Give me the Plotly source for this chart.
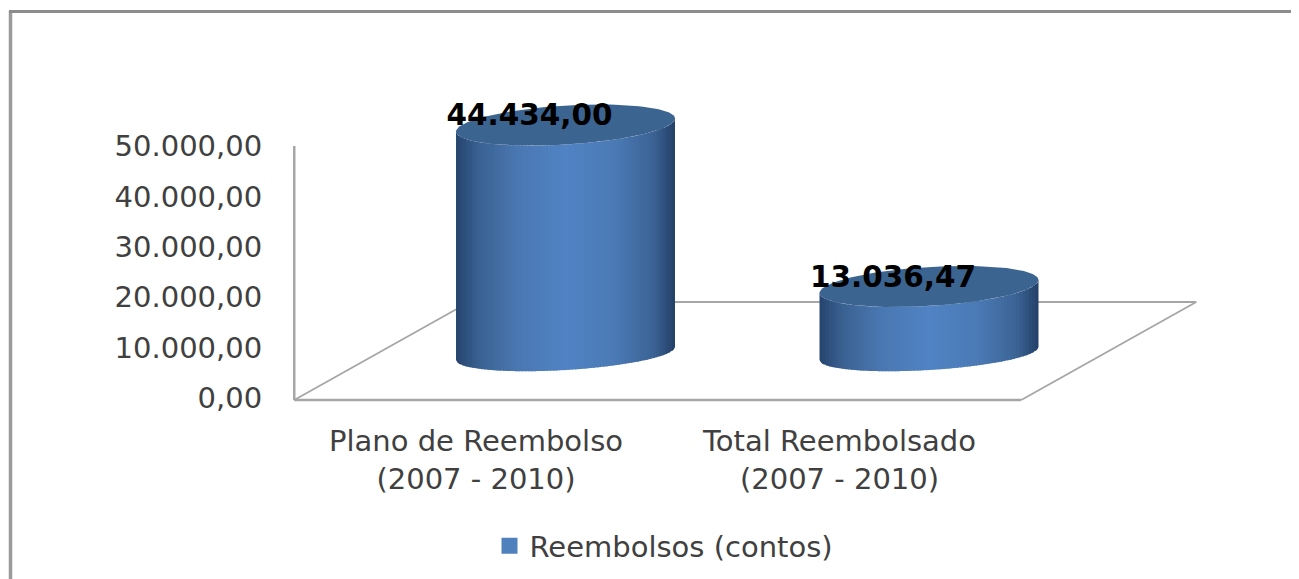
import numpy as np
import plotly.graph_objects as go

# --- data ---
categories = ["Plano de Reembolso<br>(2007 - 2010)", "Total Reembolsado<br>(2007 - 2010)"]
values = [44434.00, 13036.47]
value_labels = ["44.434,00", "13.036,47"]
axis_ticks = [0, 10000, 20000, 30000, 40000, 50000]
axis_labels = ["0,00", "10.000,00", "20.000,00", "30.000,00", "40.000,00", "50.000,00"]
series_name = "Reembolsos (contos)"

OFF = 8               # the page body margin
W, H = 1299 - OFF, 579 - OFF
PX = 0.00504          # px per value unit on the value axis
Y0 = 398 - OFF        # pixel of zero
AXIS_BOTTOM = 402 - OFF
UNIT = 363.5          # px per category
X0 = 476 - OFF        # pixel of first category tick
AXIS_LEFT = 288 - OFF


def vy(p):
    return (Y0 - (p - OFF)) / PX


LINE = "#a6a6a6"
FLOOR_FRONT = vy(400)
FLOOR_BACK = vy(302)
DEPTH = 175 / UNIT
MID = 89.5 / UNIT
HALF_W = 109.5 / UNIT
BASE = vy(353.5)
PERSP = 1.02
B_TOP, B_BOT, TILT = 19.5 / PX, 16.5 / PX, 6.5 / PX

STOPS = [(0, (38, 68, 110)), (0.1, (58, 97, 145)), (0.28, (74, 120, 178)), (0.5, (81, 131, 197)),
         (0.72, (76, 123, 182)), (0.9, (60, 100, 150)), (1, (36, 64, 104))]


def shade(t):
    ts = [s[0] for s in STOPS]
    return "rgb(%d,%d,%d)" % tuple(np.interp(t, ts, [s[1][i] for s in STOPS]) for i in range(3))


fig = go.Figure()


def line(xs, ys, width):
    fig.add_trace(go.Scatter(x=xs, y=ys, mode="lines", line=dict(color=LINE, width=width),
                             showlegend=False, hoverinfo="skip", cliponaxis=False))


# floor and walls
line([-0.5, -0.5], [FLOOR_FRONT, axis_ticks[-1]], 2.5)
line([-0.5, 1.5], [FLOOR_FRONT, FLOOR_FRONT], 2.5)
line([1.5, 1.5 + DEPTH], [FLOOR_FRONT, FLOOR_BACK], 1.8)
line([-0.5, -0.5 + DEPTH], [FLOOR_FRONT, FLOOR_BACK], 1.8)
line([-0.5 + DEPTH, 1.5 + DEPTH], [FLOOR_BACK, FLOOR_BACK], 1.8)

# cylinders
N = 70
for i, v in enumerate(values):
    cx = i + MID
    top = BASE + v * PERSP
    edges = np.linspace(-1, 1, N + 1)
    for k in range(N):
        c0, c1 = edges[k], min(edges[k + 1] + 0.012, 1)
        cs = np.linspace(c0, c1, 4)
        low = BASE - B_BOT * np.sqrt(1 - cs ** 2) + TILT * cs
        high = top - B_TOP * np.sqrt(1 - cs ** 2) + TILT * cs
        fig.add_trace(go.Scatter(
            x=np.r_[cx + HALF_W * cs, cx + HALF_W * cs[::-1]],
            y=np.r_[low, high[::-1]],
            mode="lines", fill="toself", fillcolor=shade((k + 0.5) / N),
            line=dict(width=0), showlegend=False, hoverinfo="skip", cliponaxis=False))
    th = np.linspace(0, 2 * np.pi, 121)
    fig.add_trace(go.Scatter(
        x=cx + HALF_W * np.cos(th),
        y=top + B_TOP * np.sin(th) + TILT * np.cos(th),
        mode="lines", fill="toself", fillcolor="#3c6491",
        line=dict(width=0), showlegend=False, hoverinfo="skip", cliponaxis=False))

# value labels
fig.add_trace(go.Scatter(
    x=[i + MID - 36 / UNIT for i in range(len(values))],
    y=[BASE + v * PERSP + 7 / PX for v in values],
    text=value_labels, mode="text", textposition="middle center",
    textfont=dict(family="DejaVu Sans", size=29.5, color="#000000", weight="bold"),
    showlegend=False, hoverinfo="skip", cliponaxis=False))

# legend entry
fig.add_trace(go.Scatter(x=[None], y=[None], mode="markers", name=series_name,
                         marker=dict(symbol="square", size=16, color="#4f81bd")))

fig.update_layout(
    width=W, height=H, autosize=False,
    margin=dict(l=0, r=0, t=0, b=0, autoexpand=False),
    paper_bgcolor="white", plot_bgcolor="white",
    font=dict(family="DejaVu Sans", color="#404040"),
    showlegend=True,
    legend=dict(x=(664 - OFF) / W, y=1 - (546 - OFF) / H, xanchor="center", yanchor="middle",
                font=dict(size=29, color="#404040"), bgcolor="rgba(0,0,0,0)", itemsizing="trace"),
    xaxis=dict(domain=[AXIS_LEFT / W, 1], range=[(AXIS_LEFT - X0) / UNIT, (W - X0) / UNIT],
               tickmode="array", tickvals=list(range(len(categories))), ticktext=categories,
               ticks="outside", ticklen=13, tickcolor="rgba(0,0,0,0)",
               showgrid=False, zeroline=False, showline=False,
               tickfont=dict(size=29, color="#404040")),
    yaxis=dict(domain=[(H - AXIS_BOTTOM) / H, 1], range=[(Y0 - AXIS_BOTTOM) / PX, Y0 / PX],
               tickmode="array", tickvals=axis_ticks, ticktext=axis_labels,
               ticks="outside", ticklen=19, tickcolor="rgba(0,0,0,0)",
               showgrid=False, zeroline=False, showline=False,
               tickfont=dict(size=29, color="#404040")),
    shapes=[
        dict(type="line", xref="paper", yref="paper", x0=2.5 / W, x1=2.5 / W, y0=0, y1=1 - 3 / H,
             line=dict(color="#9a9a9a", width=3.5), layer="below"),
        dict(type="line", xref="paper", yref="paper", x0=1 / W, x1=1, y0=1 - 3.5 / H, y1=1 - 3.5 / H,
             line=dict(color="#8c8c8c", width=3), layer="below"),
    ],
)

fig.write_html("out.html")
